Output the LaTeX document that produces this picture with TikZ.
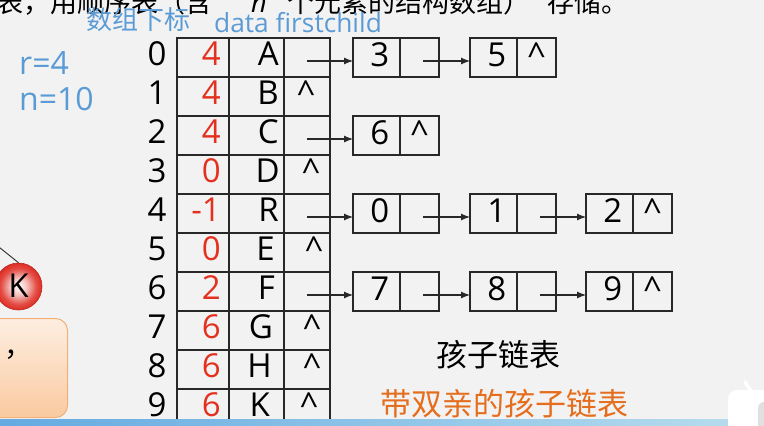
\documentclass[tikz,border=0pt]{standalone}
\usepackage{fontspec}
\setmainfont{Open Sans}
\newfontfamily\cjk{Noto Sans CJK SC}
\usetikzlibrary{arrows.meta}
\definecolor{bg}{RGB}{242,242,242}
\definecolor{lblue}{RGB}{91,155,213}
\definecolor{pred}{RGB}{228,48,30}
\definecolor{orng}{RGB}{228,110,30}
\definecolor{linec}{RGB}{40,40,40}
\definecolor{kred}{RGB}{222,45,35}
\definecolor{boxtop}{RGB}{253,238,225}
\definecolor{boxbot}{RGB}{250,202,160}
\definecolor{boxline}{RGB}{242,175,120}
\definecolor{barL}{RGB}{100,170,225}
\definecolor{barR}{RGB}{185,222,238}
\pgfdeclareradialshading{kball}{\pgfpoint{0bp}{0bp}}{color(0bp)=(white); color(9bp)=(kred!30!white); color(19bp)=(kred!85!white); color(25bp)=(kred); color(50bp)=(kred)}
\begin{document}
\begin{tikzpicture}[x=1pt,y=-1pt,
  cellbox/.style={draw=linec, line width=1.1pt, minimum height=39pt, minimum width=#1, inner sep=0pt, outer sep=0pt, anchor=north west},
  big/.style={font=\fontsize{33}{33}\selectfont, inner sep=0pt},
  arr/.style={draw=linec, line width=1.1pt, -{Latex[length=9pt,width=7pt]}},
  lbl/.style={inner sep=0pt, anchor=base west},
]
\useasboundingbox (0,0) rectangle (764,426);
\fill[bg] (0,0) rectangle (764,426);

% top (clipped) sentence
\node[lbl, font=\cjk\fontsize{27}{27}\selectfont] (t1) at (-4,12.5) {表，用顺序表（含};
\node[lbl, font=\itshape\fontsize{27}{27}\selectfont] (t2) at (251,12.5) {n};
\node[lbl, font=\cjk\fontsize{27}{27}\selectfont] (t3) at (287,12.5) {个元素的结构数组）};
\node[lbl, font=\cjk\fontsize{27}{27}\selectfont] (t4) at (547,12.5) {存储。};

% headers
\node[lbl, text=lblue, font=\cjk\fontsize{26}{26}\selectfont] (h1) at (86,29) {数组下标};
\node[lbl, text=lblue, font=\fontsize{26.3}{26.3}\selectfont] (h2) at (214,32) {data firstchild};
\node[lbl, text=lblue, font=\fontsize{32}{32}\selectfont] (rr) at (19,74) {r=4};
\node[lbl, text=lblue, font=\fontsize{32}{32}\selectfont] (nn) at (19,110) {n=10};

% table
\foreach \i [evaluate=\i as \ry using 38+39*\i] in {0,...,9}{
  \node[cellbox=52pt] (p\i) at (177,\ry) {};
  \node[cellbox=55pt] (d\i) at (229,\ry) {};
  \node[cellbox=46pt] (f\i) at (284,\ry) {};
  \node[big, anchor=base] (i\i) at (157,\ry+27.5) {\i};
}
\foreach \i/\v in {0/4,1/4,2/4,3/0,4/-1,5/0,6/2,7/6,8/6,9/6}
  \node[big, text=pred, anchor=base east] (pv\i) at (221,38+39*\i+27.5) {\v};
\foreach \i/\v/\x in {0/A/279,1/B/279,2/C/279,3/D/280,4/R/279,5/E/275,6/F/275,7/G/273,8/H/272,9/K/270}
  \node[big, anchor=base east] (dv\i) at (\x,38+39*\i+27.5) {\v};
\foreach \i/\x in {1/306,3/311,5/314,7/312,8/312,9/309}
  \node[big, anchor=base] (c\i) at (\x,38+39*\i+27.5) {\textasciicircum};

% child lists
\foreach \r/\k/\x/\v/\last in {0/1/353/3/0,0/2/470/5/1,2/1/353/6/1,4/1/353/0/0,4/2/470/1/0,4/3/586/2/1,6/1/353/7/0,6/2/470/8/0,6/3/586/9/1}{
  \node[cellbox=47pt] (L\r\k d) at (\x,38+39*\r) {};
  \node[cellbox=39pt] (L\r\k p) at (\x+47,38+39*\r) {};
  \node[big, anchor=base east] (L\r\k v) at (\x+36.5,38+39*\r+28) {\v};
  \ifnum\last=1 \node[big, anchor=base] (L\r\k c) at (\x+66.5,38+39*\r+28) {\textasciicircum};\fi
}
\foreach \a/\b in {f0/L01d,L01p/L02d,f2/L21d,f4/L41d,L41p/L42d,L42p/L43d,f6/L61d,L61p/L62d,L62p/L63d}
  \draw[arr] ([shift={(23,3.5)}]\a.west) -- ([shift={(0,3.5)}]\b.west);

% captions
\node[lbl, font=\cjk\fontsize{31}{31}\selectfont] (cap1) at (436,366) {孩子链表};
\node[lbl, text=orng, font=\cjk\fontsize{31}{31}\selectfont] (cap2) at (380,415) {带双亲的孩子链表};

% left fragment: tree node K and callout
\coordinate (kin) at (-3,245.5);
\node[circle, minimum size=47pt, inner sep=0pt, draw=kred!85!black, line width=0.6pt, shading=kball] (K) at (18.5,286.5) {};
\draw[linec, line width=0.9pt] (kin) -- (K.north);
\node[big, anchor=base] (Klab) at (18.5,297) {K};
\node[draw=boxline, line width=1pt, rounded corners=12pt, top color=boxtop, bottom color=boxbot, minimum width=82pt, minimum height=99pt, anchor=north west, inner sep=0pt] (obox) at (-15,318) {};
\node[lbl, font=\cjk\fontsize{28}{28}\selectfont] (cm) at (4,356) {，};

% bottom bar and corner icon
\shade[left color=barL, right color=barR] (0,419) rectangle (764,426);
\draw[white, line width=3.5pt, line cap=round] (745,382) -- (751,391);
\fill[white, rounded corners=9pt] (728,390) rectangle (795,445);
\fill[black!12, rounded corners=6pt] (758,402) rectangle (795,445);
\end{tikzpicture}
\end{document}
